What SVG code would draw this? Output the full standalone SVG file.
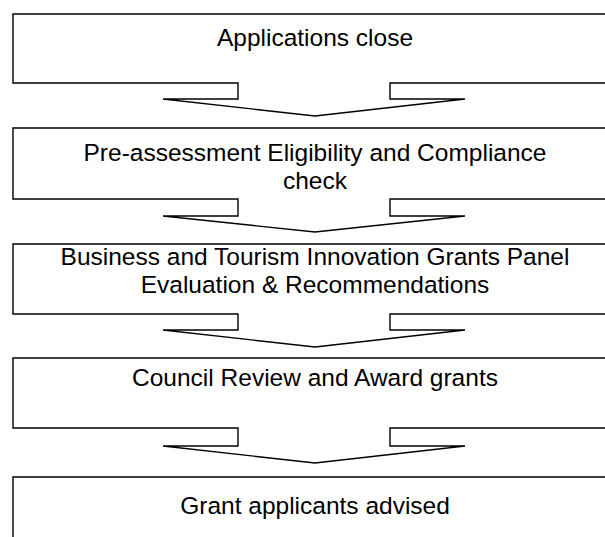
<svg xmlns="http://www.w3.org/2000/svg" width="605" height="537" viewBox="0 0 605 537">
<style>
.s{fill:#fff;stroke:#000;stroke-width:1.4;stroke-linejoin:miter}
.t{font-family:"Liberation Sans",Arial,sans-serif;font-size:24.5px;fill:#000;text-anchor:middle}
</style>
<rect width="605" height="537" fill="#fff"/>
<g id="connectors"></g>
<g id="n1">
<path class="s" d="M620 14 H13 V83 H238 V99 H163 L315 116 L465 99 H390 V83 H620"/>
<text class="t" x="315" y="46">Applications close</text>
</g>
<g id="n2">
<path class="s" d="M620 128 H13 V199 H238 V216 H163 L315 232 L465 216 H390 V199 H620"/>
<text class="t" x="315" y="161">Pre-assessment Eligibility and Compliance</text>
<text class="t" x="315" y="189">check</text>
</g>
<g id="n3">
<path class="s" d="M620 244 H13 V314 H238 V330 H163 L315 347 L465 330 H390 V314 H620"/>
<text class="t" x="315" y="265">Business and Tourism Innovation Grants Panel</text>
<text class="t" x="315" y="293">Evaluation &amp; Recommendations</text>
</g>
<g id="n4">
<path class="s" d="M620 358 H13 V428 H238 V446 H163 L315 463 L465 446 H390 V428 H620"/>
<text class="t" x="315" y="386">Council Review and Award grants</text>
</g>
<g id="n5">
<path class="s" d="M620 477 H13 V545"/>
<text class="t" x="315" y="514">Grant applicants advised</text>
</g>
</svg>
